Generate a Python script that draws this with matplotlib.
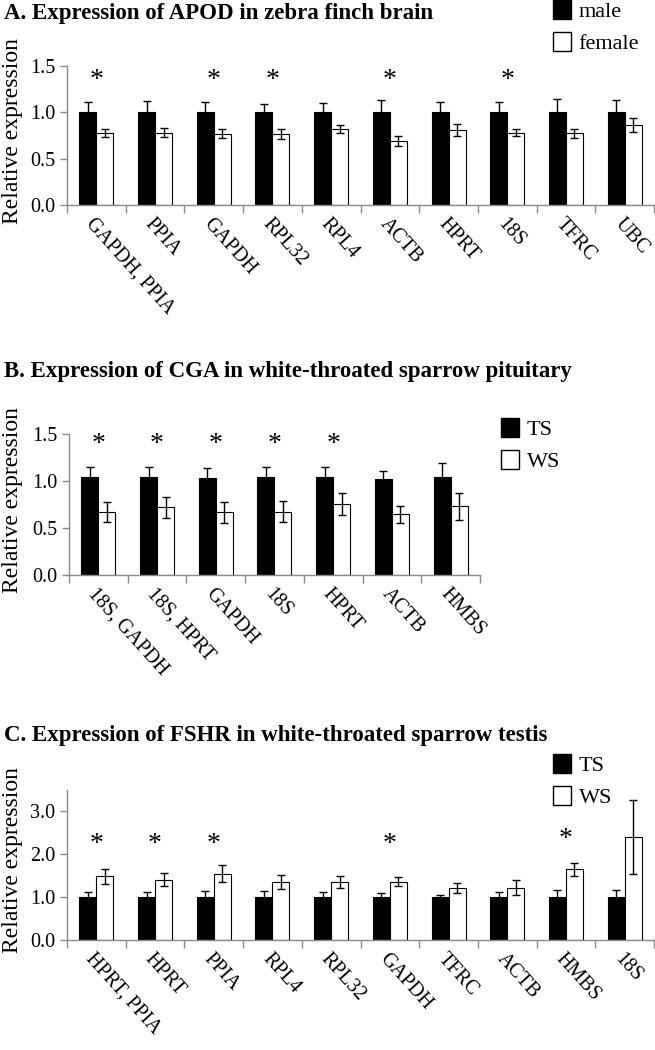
import matplotlib
matplotlib.use("Agg")
import matplotlib.pyplot as plt
import matplotlib.transforms as mtransforms
from matplotlib.patches import Patch
from matplotlib.ticker import FormatStrFormatter
import numpy as np

plt.rcParams["font.family"] = ["Liberation Serif", "DejaVu Serif"]

# ---- Panel A: APOD in zebra finch brain ----
a_genes = ["GAPDH, PPIA", "PPIA", "GAPDH", "RPL32", "RPL4", "ACTB", "HPRT", "18S", "TFRC", "UBC"]
a_male = [1.0, 1.0, 1.0, 1.0, 1.0, 1.0, 1.0, 1.0, 1.0, 1.0]
a_male_err = [0.11, 0.12, 0.11, 0.09, 0.10, 0.13, 0.115, 0.11, 0.14, 0.135]
a_female = [0.775, 0.78, 0.77, 0.765, 0.82, 0.69, 0.81, 0.78, 0.775, 0.86]
a_female_err = [0.045, 0.047, 0.045, 0.055, 0.045, 0.05, 0.065, 0.04, 0.05, 0.075]
a_stars = [1.40, None, 1.40, 1.40, None, 1.40, None, 1.40, None, None]

# ---- Panel B: CGA in white-throated sparrow pituitary ----
b_genes = ["18S, GAPDH", "18S, HPRT", "GAPDH", "18S", "HPRT", "ACTB", "HMBS"]
b_ts = [1.04, 1.04, 1.03, 1.04, 1.04, 1.02, 1.04]
b_ts_err = [0.105, 0.11, 0.105, 0.11, 0.11, 0.09, 0.15]
b_ws = [0.67, 0.72, 0.665, 0.675, 0.757, 0.646, 0.73]
b_ws_err = [0.11, 0.11, 0.11, 0.107, 0.12, 0.09, 0.145]
b_stars = [1.45, 1.45, 1.45, 1.45, 1.45, None, None]

# ---- Panel C: FSHR in white-throated sparrow testis ----
c_genes = ["HPRT, PPIA", "HPRT", "PPIA", "RPL4", "RPL32", "GAPDH", "TFRC", "ACTB", "HMBS", "18S"]
c_ts = [1.0, 1.0, 1.0, 1.0, 1.0, 1.0, 1.0, 1.0, 1.0, 1.0]
c_ts_err = [0.125, 0.12, 0.155, 0.14, 0.125, 0.095, 0.05, 0.12, 0.17, 0.17]
c_ws = [1.49, 1.41, 1.55, 1.35, 1.35, 1.36, 1.22, 1.22, 1.65, 2.41]
c_ws_err = [0.175, 0.16, 0.195, 0.17, 0.14, 0.11, 0.12, 0.17, 0.155, 0.86]
c_stars = [2.35, 2.35, 2.35, None, None, 2.35, None, None, 2.47, None]

W, H = 655, 1050
fig = plt.figure(figsize=(W / 100, H / 100), dpi=100)

AXIS_GREY = "#8a8a8a"


def px_rect(left, top, right, bottom):
    # pixel box -> figure fraction rect
    return [left / W, 1 - bottom / H, (right - left) / W, (bottom - top) / H]


def draw_panel(rect, genes, v1, e1, v2, e2, stars, ymax, yticks, title, title_y,
               labels, legend_xy):
    ax = fig.add_axes(rect)
    x = np.arange(len(genes))
    bw = 0.29
    ax.bar(x - bw / 2, v1, bw, color="black", edgecolor="black", linewidth=0.8)
    ax.bar(x + bw / 2, v2, bw, color="white", edgecolor="black", linewidth=0.8)
    ax.errorbar(x - bw / 2, v1, yerr=e1, fmt="none", ecolor="black",
                elinewidth=1, capsize=3, capthick=1)
    ax.errorbar(x + bw / 2, v2, yerr=e2, fmt="none", ecolor="black",
                elinewidth=1, capsize=3, capthick=1)
    for i, s in enumerate(stars):
        if s is not None:
            # the '*' glyph sits high in its box, nudge it down a little
            ax.annotate("*", (x[i], s), xytext=(0, -4), textcoords="offset points",
                        ha="center", va="center", fontsize=20, annotation_clip=False)

    ax.set_xlim(-0.5, len(genes) - 0.5)
    ax.set_ylim(0, ymax)
    ax.set_yticks(yticks)
    ax.yaxis.set_major_formatter(FormatStrFormatter("%.1f"))
    ax.set_xticks(x)
    ax.set_xticks(np.arange(len(genes) + 1) - 0.5, minor=True)
    ax.set_xticklabels(genes, rotation=-48, ha="left", va="top",
                       rotation_mode="anchor", fontsize=14.5)
    ax.tick_params(axis="x", which="major", length=0, pad=7)
    ax.tick_params(axis="x", which="minor", length=6, color=AXIS_GREY, width=1)
    ax.tick_params(axis="y", length=5, color=AXIS_GREY, width=1, labelsize=14.5)
    for sp in ["top", "right"]:
        ax.spines[sp].set_visible(False)
    for sp in ["left", "bottom"]:
        ax.spines[sp].set_color(AXIS_GREY)
        ax.spines[sp].set_linewidth(1)

    ax.set_ylabel("Relative expression", fontsize=17)
    tr = mtransforms.blended_transform_factory(fig.transFigure, ax.transAxes)
    ax.yaxis.set_label_coords(23 / W, 0.53, transform=tr)

    fig.text(4 / W, 1 - title_y / H, title, fontsize=16.5, fontweight="bold",
             ha="left", va="center")

    handles = [Patch(facecolor="black", edgecolor="black"),
               Patch(facecolor="white", edgecolor="black")]
    ax.legend(handles, labels, loc="upper left",
              bbox_to_anchor=(legend_xy[0] / W, 1 - legend_xy[1] / H),
              bbox_transform=fig.transFigure, frameon=False, fontsize=16,
              handlelength=0.8, handleheight=0.95, handletextpad=0.35,
              labelspacing=0.45, borderpad=0, borderaxespad=0)
    return ax


draw_panel(px_rect(67, 66, 654, 205), a_genes, a_male, a_male_err, a_female, a_female_err,
           a_stars, 1.5, [0, 0.5, 1.0, 1.5],
           "A. Expression of APOD in zebra finch brain", 13, ["male", "female"], (553, 0))

draw_panel(px_rect(69, 434, 69 + 7 * 58.7, 575), b_genes, b_ts, b_ts_err, b_ws, b_ws_err,
           b_stars, 1.5, [0, 0.5, 1.0, 1.5],
           "B. Expression of CGA in white-throated sparrow pituitary", 372, ["TS", "WS"], (501, 418))

draw_panel(px_rect(67, 790, 654, 940), c_genes, c_ts, c_ts_err, c_ws, c_ws_err,
           c_stars, 3.5, [0, 1.0, 2.0, 3.0],
           "C. Expression of FSHR in white-throated sparrow testis", 735, ["TS", "WS"], (553, 754))

fig.savefig("out.png", dpi=100)
